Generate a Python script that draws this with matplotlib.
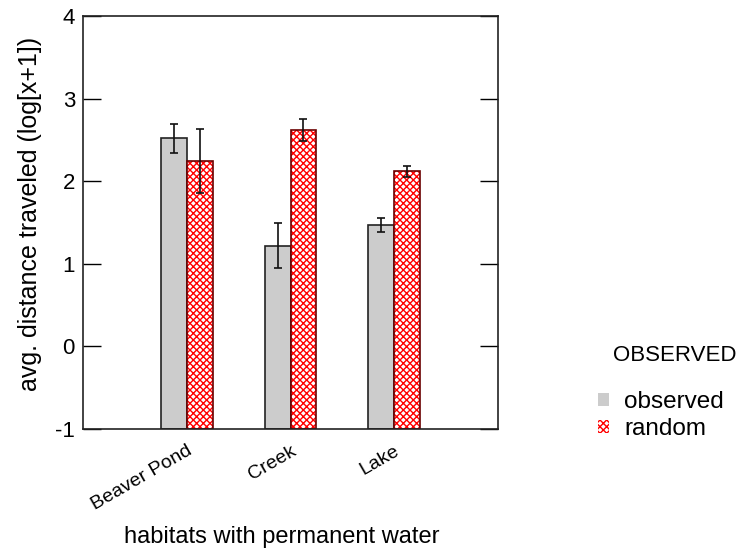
import numpy as np
import matplotlib.pyplot as plt
from matplotlib.patches import Patch

plt.rcParams['font.family'] = ['Liberation Sans', 'DejaVu Sans']
plt.rcParams['hatch.linewidth'] = 1.0

# data
habitats = ["Beaver Pond", "Creek", "Lake"]
observed = [2.52, 1.22, 1.47]
observed_err = [0.18, 0.27, 0.085]
random_vals = [2.25, 2.62, 2.12]
random_err = [0.39, 0.135, 0.07]

W = 0.25
BASE = -1  # bars are drawn up from the bottom of the axis

fig = plt.figure(figsize=(7.44, 5.48), dpi=100)
ax = fig.add_axes([0.112, 0.218, 0.557, 0.752])

x = np.arange(len(habitats))
err_style = dict(elinewidth=1.2, capthick=1.2, ecolor="#111111")
obs_h = [v - BASE for v in observed]
rnd_h = [v - BASE for v in random_vals]
ax.bar(x - W / 2, obs_h, W, bottom=BASE, color="#cccccc", edgecolor="#222222",
       linewidth=1.2, yerr=observed_err, capsize=3, error_kw=err_style)
ax.bar(x + W / 2, rnd_h, W, bottom=BASE, color="white", edgecolor="red", hatch="xxxxx",
       linewidth=0, yerr=random_err, capsize=3, error_kw=err_style)
ax.bar(x + W / 2, rnd_h, W, bottom=BASE, color="none", edgecolor="#6b0000", linewidth=1.2)

ax.set_xlim(-1, 3)
ax.set_ylim(-1, 4)
ax.set_yticks([-1, 0, 1, 2, 3, 4])
ax.set_yticklabels(["-1", "0", "1", "2", "3", "4"], fontsize=16)
ax.tick_params(axis="y", direction="in", length=13, width=1, left=True, right=True, pad=6)
ax.set_xticks(x)
ax.set_xticklabels(habitats, rotation=30, ha="right", rotation_mode="anchor", fontsize=14)
ax.tick_params(axis="x", length=0, pad=10)
for s in ax.spines.values():
    s.set_linewidth(1.2)
    s.set_color("#222222")

ax.set_ylabel("avg. distance traveled (log[x+1])", fontsize=18)
ax.yaxis.set_label_coords(-0.1, 0.52)
ax.set_xlabel("habitats with permanent water", fontsize=17)
ax.xaxis.set_label_coords(0.48, -0.263)
ax.xaxis.label.set_va("center")

handles = [Patch(facecolor="#cccccc", edgecolor="none", label="observed"),
           Patch(facecolor="white", edgecolor="red", hatch="xxxxx", linewidth=0, label="random")]
fig.text(0.907, 0.352, "OBSERVED", fontsize=16, ha="center", va="center")
fig.legend(handles=handles, loc="upper left", bbox_to_anchor=(0.788, 0.308), frameon=False,
           fontsize=17.5, handlelength=0.45, handleheight=0.45, handletextpad=0.6,
           labelspacing=0.2, borderpad=0)

fig.savefig("out.png", dpi=100)
